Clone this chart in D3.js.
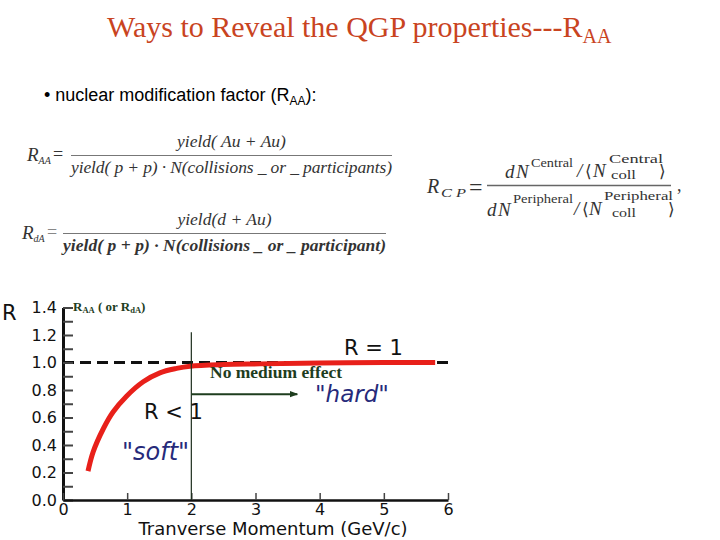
<!DOCTYPE html>
<html><head><meta charset="utf-8">
<script src="https://cdn.jsdelivr.net/npm/d3@7"></script>
<style>
html,body{margin:0;padding:0;background:#fff;}
svg{display:block;}
</style></head>
<body>
<svg id="c" width="720" height="540"></svg>
<script>
// ---- data ----
const pT   = [0.39, 0.47, 0.63, 0.78, 0.99, 1.25, 1.51, 1.77, 1.98, 2.5, 3.07, 4.0, 5.0, 5.8];
const Rval = [0.21, 0.35, 0.52, 0.64, 0.755, 0.86, 0.925, 0.957, 0.973, 0.985, 0.99, 0.997, 1.0, 1.0];
const xTicks = [0, 1, 2, 3, 4, 5, 6];
const yTicks = [0, 0.1, 0.2, 0.3, 0.4, 0.5, 0.6, 0.7, 0.8, 0.9, 1.0, 1.1, 1.2, 1.3, 1.4];
const yLabels = [0, 0.2, 0.4, 0.6, 0.8, 1.0, 1.2, 1.4];
const refLevel = 1.0;
const cutPT = 2;
const arrowFrom = [2, 0.77], arrowTo = [3.65, 0.77];

const svg = d3.select("#c");
const x = d3.scaleLinear().domain([0, 6]).range([63, 448]);
const y = d3.scaleLinear().domain([0, 1.4]).range([500, 307.5]);
const serif = "Liberation Serif, Times New Roman, serif";
const sans = "DejaVu Sans, Verdana, sans-serif";

// ---- title ----
const title = svg.append("text").attr("x", 107).attr("y", 37)
  .attr("font-family", serif).attr("font-size", 30).attr("fill", "#c9441f");
title.append("tspan").text("Ways to Reveal the QGP properties---R");
title.append("tspan").attr("font-size", 20).attr("dy", 6).text("AA");

// ---- bullet ----
const bl = svg.append("text").attr("x", 44).attr("y", 101)
  .attr("font-family", "Liberation Sans, Arial, sans-serif").attr("font-size", 18).attr("fill", "#000");
bl.append("tspan").text("• nuclear modification factor (R");
bl.append("tspan").attr("font-size", 12).attr("dy", 4).text("AA");
bl.append("tspan").attr("dy", -4).text("):");

// ---- formulas ----
const fm = svg.append("g").attr("font-family", serif).attr("fill", "#333").attr("font-style", "italic");
function frac(g, lx, rx, ly, num, den, numY, denY, fs, denWeight) {
  g.append("line").attr("x1", lx).attr("x2", rx).attr("y1", ly).attr("y2", ly)
    .attr("stroke", "#777").attr("stroke-width", 1.2);
  g.append("text").attr("x", (lx + rx) / 2).attr("y", numY).attr("text-anchor", "middle")
    .attr("font-size", fs).text(num);
  g.append("text").attr("x", lx).attr("y", denY).attr("font-size", fs)
    .attr("textLength", rx - lx).attr("lengthAdjust", "spacing")
    .attr("font-weight", denWeight || "normal").text(den);
}
let t = fm.append("text").attr("x", 27).attr("y", 161).attr("font-size", 19);
t.append("tspan").text("R");
t.append("tspan").attr("font-size", 10).attr("dy", 3).text("AA");
fm.append("text").attr("x", 53).attr("y", 160).attr("font-size", 18).attr("font-style", "normal").text("=");
frac(fm, 71, 392, 155.5, "yield( Au + Au)", "yield( p + p) · N(collisions _ or _ participants)", 147, 173, 17.5);
t = fm.append("text").attr("x", 22).attr("y", 239).attr("font-size", 19);
t.append("tspan").text("R");
t.append("tspan").attr("font-size", 10).attr("dy", 3).text("dA");
fm.append("text").attr("x", 47).attr("y", 238).attr("font-size", 18).attr("font-style", "normal").attr("fill", "#888").text("=");
frac(fm, 63, 386, 233.5, "yield(d + Au)", "yield( p + p) · N(collisions _ or _ participant)", 225, 251, 17.5, "bold");

// R_CP
const cp = svg.append("g").attr("font-family", serif).attr("fill", "#333");
function txt(xx, yy, s, fs, opts) {
  const e = cp.append("text").attr("x", xx).attr("y", yy).attr("font-size", fs).text(s);
  if (opts && opts.it) e.attr("font-style", "italic");
  if (opts && opts.tl) e.attr("textLength", opts.tl).attr("lengthAdjust", "spacingAndGlyphs");
  return e;
}
txt(427, 193, "R", 20, {it: 1});
txt(441, 197, "C P", 13, {it: 1, tl: 25});
txt(469, 195, "=", 24);
cp.append("line").attr("x1", 487).attr("x2", 671).attr("y1", 185.5).attr("y2", 185.5)
  .attr("stroke", "#666").attr("stroke-width", 1.3);
// numerator
txt(505, 178, "d", 19, {it: 1});
txt(516, 178, "N", 19, {it: 1});
txt(531, 167, "Central", 13, {tl: 42});
txt(577, 177, "/", 19, {it: 1});
txt(585, 177, "\u27E8", 17).attr("font-family", sans);
txt(593, 177, "N", 19, {it: 1});
txt(609, 163, "Central", 12, {tl: 54});
txt(611, 179, "coll", 12, {tl: 25});
txt(659, 177, "\u27E9", 17).attr("font-family", sans);
// denominator
txt(487, 216, "d", 19, {it: 1});
txt(498, 216, "N", 19, {it: 1});
txt(513, 203, "Peripheral", 13, {tl: 60});
txt(574, 215, "/", 19, {it: 1});
txt(582, 215, "\u27E8", 17).attr("font-family", sans);
txt(589, 215, "N", 19, {it: 1});
txt(604, 200, "Peripheral", 12, {tl: 69});
txt(612, 217, "coll", 12, {tl: 24});
txt(668, 215, "\u27E9", 17).attr("font-family", sans);
txt(677, 191, ",", 18);

// ---- chart ----
const ch = svg.append("g");
ch.append("line").attr("x1", x(0)).attr("x2", x(6)).attr("y1", y(refLevel)).attr("y2", y(refLevel))
  .attr("stroke", "#111").attr("stroke-width", 3).attr("stroke-dasharray", "11,6");

const yAx = d3.axisLeft(y).tickValues(yTicks).tickSizeInner(-10).tickSizeOuter(0).tickPadding(6)
  .tickFormat(d => yLabels.some(v => Math.abs(v - d) < 1e-9) ? d3.format(".1f")(d) : "");
const gy = ch.append("g").attr("transform", `translate(${x(0)},0)`).call(yAx);
gy.select(".domain").attr("stroke", "#111").attr("stroke-width", 3);
gy.selectAll(".tick line").attr("stroke", "#444").attr("stroke-width", 2);
gy.selectAll(".tick text").attr("font-family", sans).attr("font-size", 16).attr("fill", "#111");

const xAx = d3.axisBottom(x).tickValues(xTicks).tickSizeInner(-7).tickSizeOuter(0).tickPadding(4)
  .tickFormat(d3.format("d"));
const gx = ch.append("g").attr("transform", `translate(0,${y(0)})`).call(xAx);
gx.select(".domain").attr("stroke", "#111").attr("stroke-width", 2.5);
gx.selectAll(".tick line").attr("stroke", "#444").attr("stroke-width", 1.5);
gx.selectAll(".tick text").attr("font-family", sans).attr("font-size", 16).attr("fill", "#111");

const line = d3.line().x(d => x(d[0])).y(d => y(d[1])).curve(d3.curveCatmullRom.alpha(0.5));
ch.append("path").datum(pT.map((p, i) => [p, Rval[i]])).attr("d", line)
  .attr("fill", "none").attr("stroke", "#e8201a").attr("stroke-width", 5);

ch.append("line").attr("x1", x(cutPT)).attr("x2", x(cutPT)).attr("y1", y(0)).attr("y2", y(1.22))
  .attr("stroke", "#1c2e1c").attr("stroke-width", 1.2);

svg.append("defs").append("marker").attr("id", "ah").attr("viewBox", "0 0 10 10")
  .attr("refX", 9).attr("refY", 5).attr("markerWidth", 4).attr("markerHeight", 4)
  .attr("markerUnits", "strokeWidth").attr("orient", "auto")
  .append("path").attr("d", "M0,1 L10,5 L0,9 Z").attr("fill", "#1e3d1e");
ch.append("line").attr("x1", x(arrowFrom[0])).attr("y1", y(arrowFrom[1]))
  .attr("x2", x(arrowTo[0])).attr("y2", y(arrowTo[1]))
  .attr("stroke", "#1e3d1e").attr("stroke-width", 2).attr("marker-end", "url(#ah)");

ch.append("text").attr("x", 2).attr("y", 320).attr("font-family", sans).attr("font-size", 21).attr("fill", "#111").text("R");
t = ch.append("text").attr("x", 73).attr("y", 311).attr("font-family", serif)
  .attr("font-weight", "bold").attr("font-size", 13).attr("fill", "#1e3d1e");
t.append("tspan").text("R");
t.append("tspan").attr("font-size", 8.5).attr("dy", 2).text("AA");
t.append("tspan").attr("dy", -2).text(" ( or R");
t.append("tspan").attr("font-size", 8.5).attr("dy", 2).text("dA");
t.append("tspan").attr("dy", -2).text(")");

ch.append("text").attr("x", 344).attr("y", 355).attr("font-family", sans).attr("font-size", 21).attr("fill", "#111").text("R = 1");
ch.append("text").attr("x", 144).attr("y", 419).attr("font-family", sans).attr("font-size", 21).attr("fill", "#111").text("R < 1");
ch.append("text").attr("x", 210).attr("y", 378).attr("font-family", serif)
  .attr("font-weight", "bold").attr("font-size", 17.5).attr("fill", "#1e3d1e").text("No medium effect");
ch.append("text").attr("x", 315).attr("y", 402).attr("font-family", sans).attr("font-style", "italic")
  .attr("font-size", 23).attr("fill", "#262a7a").text("\"hard\"");
ch.append("text").attr("x", 122).attr("y", 460).attr("font-family", sans).attr("font-style", "italic")
  .attr("font-size", 24).attr("fill", "#262a7a").text("\"soft\"");
ch.append("text").attr("x", 273).attr("y", 535).attr("text-anchor", "middle").attr("font-family", sans)
  .attr("font-size", 18).attr("fill", "#111").text("Tranverse Momentum (GeV/c)");
</script>
</body></html>
